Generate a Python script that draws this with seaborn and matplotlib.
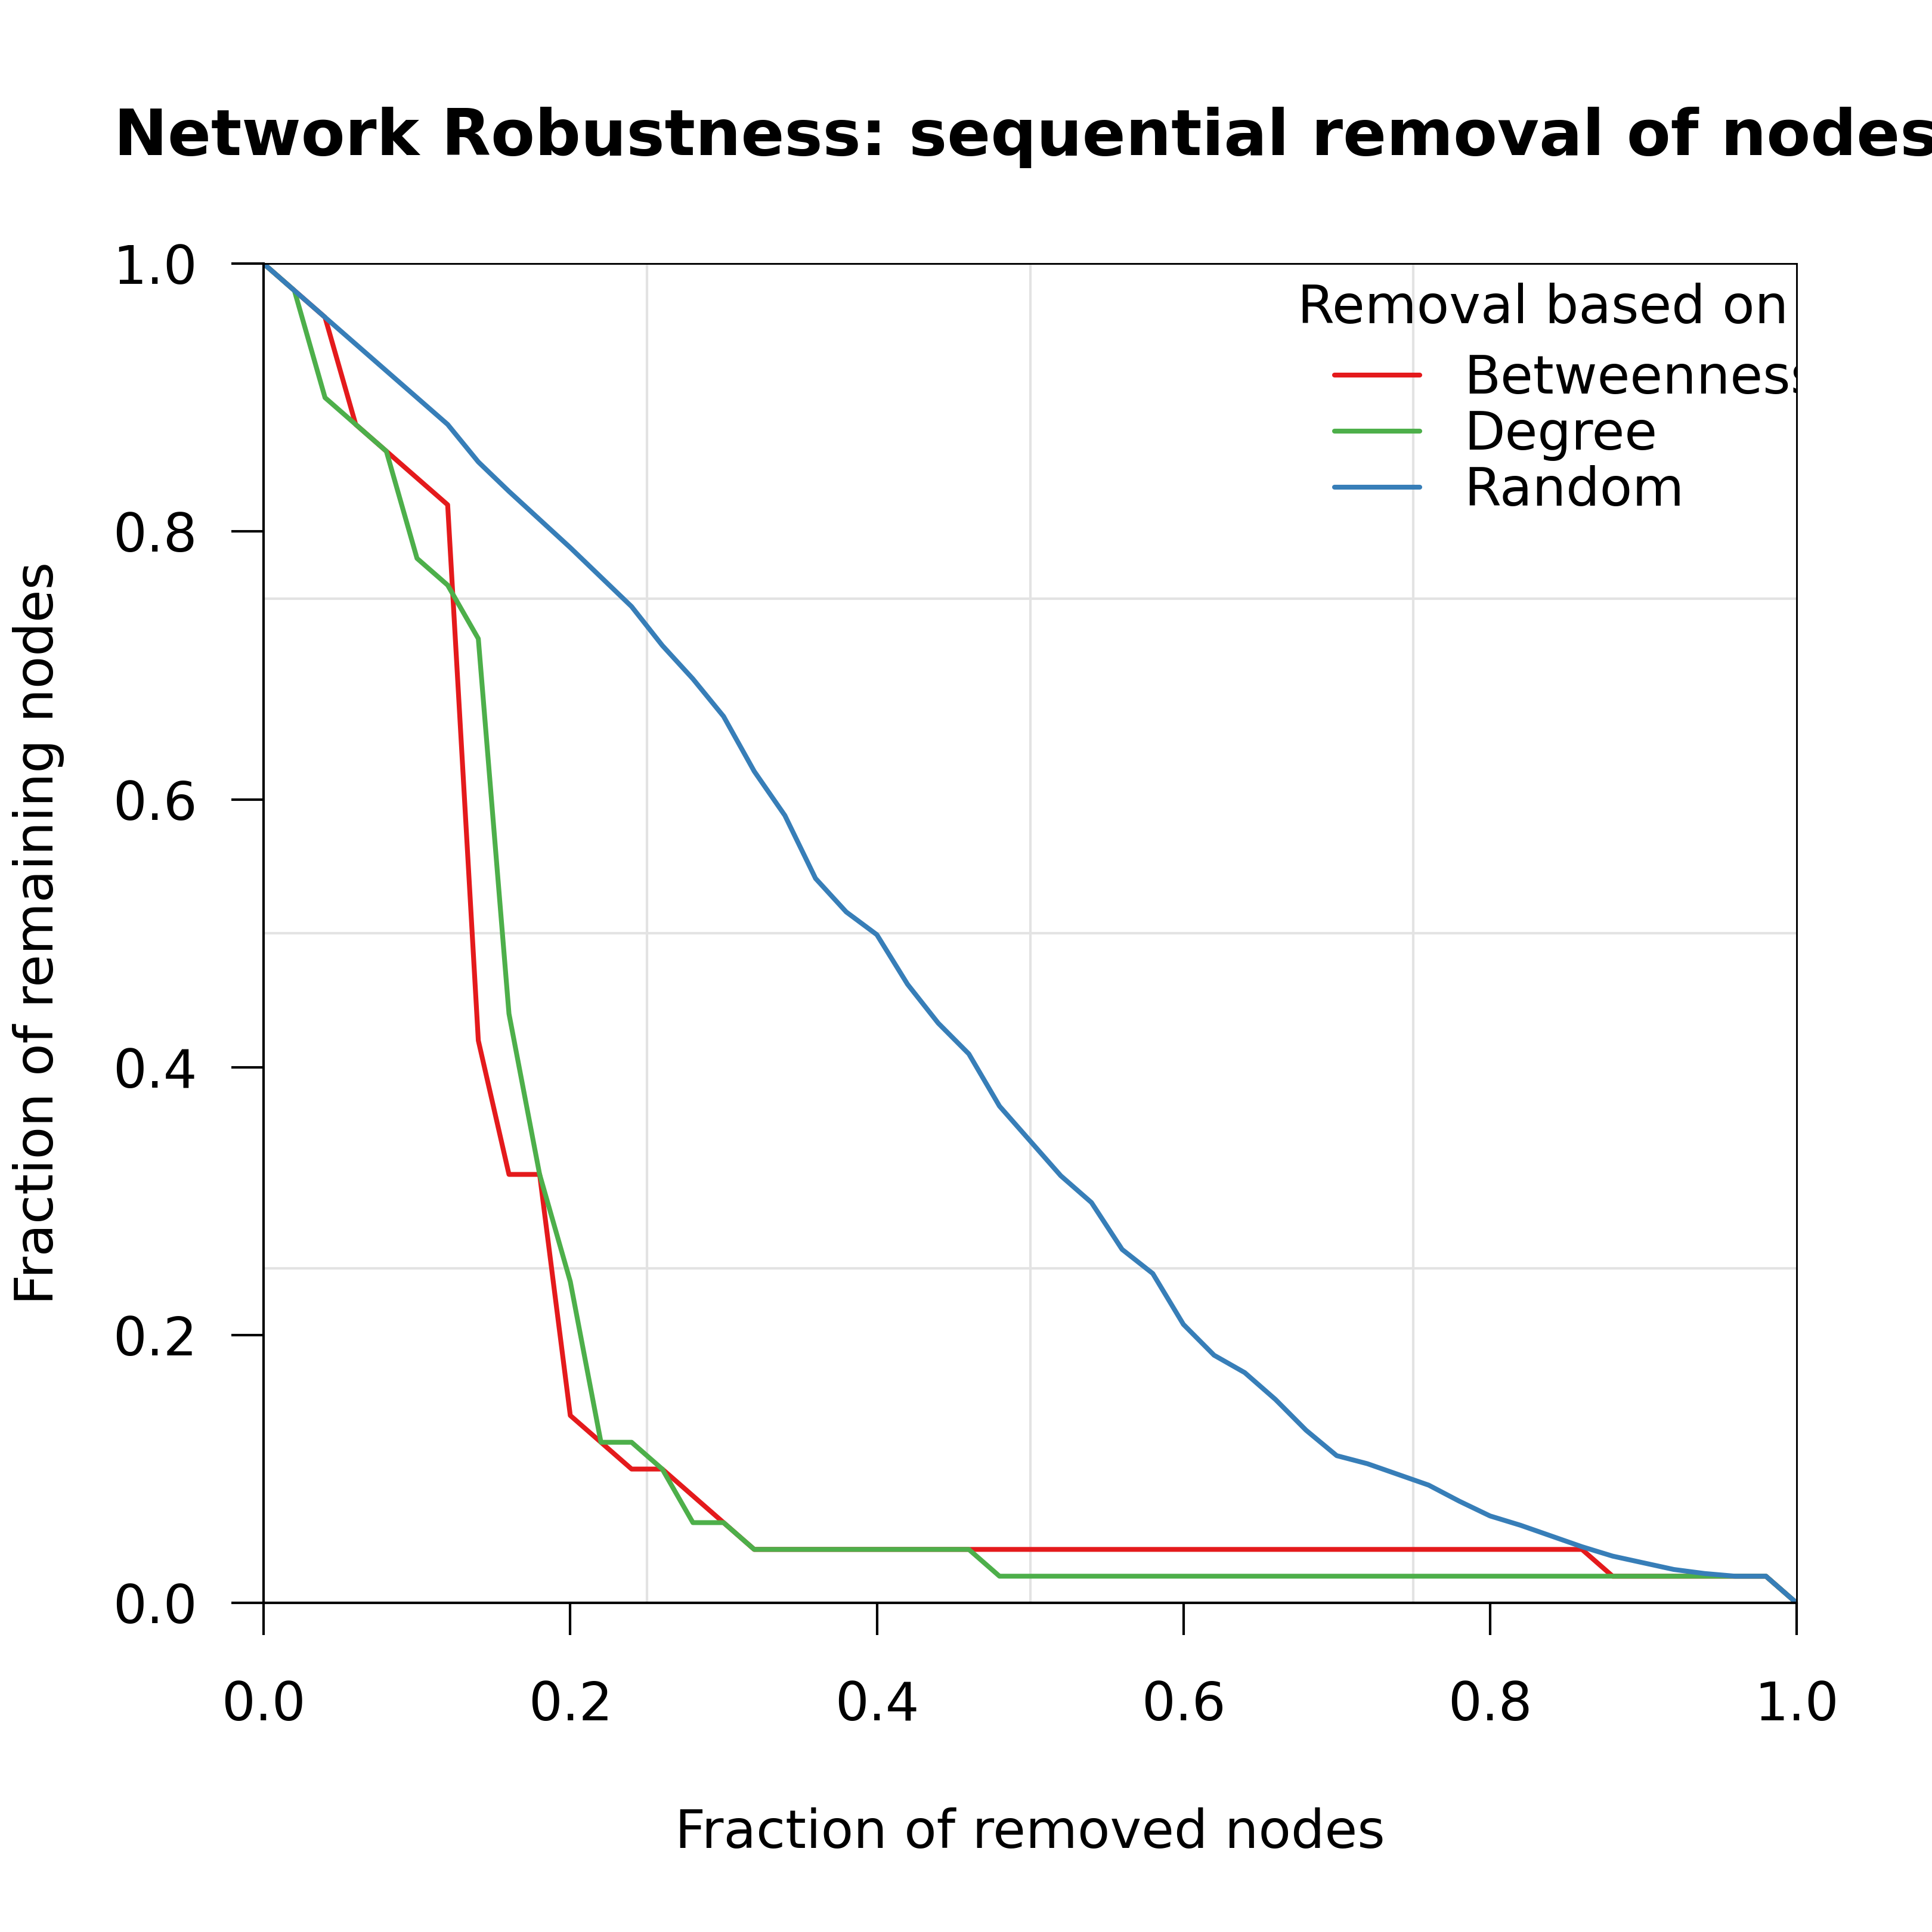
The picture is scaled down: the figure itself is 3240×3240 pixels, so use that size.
import matplotlib
matplotlib.use("Agg")
import matplotlib.pyplot as plt
from matplotlib.ticker import MultipleLocator
import pandas as pd
import seaborn as sns

# fraction of removed nodes (50-node network)
removed = [0.00, 0.02, 0.04, 0.06, 0.08, 0.10, 0.12, 0.14, 0.16, 0.18,
           0.20, 0.22, 0.24, 0.26, 0.28, 0.30, 0.32, 0.34, 0.36, 0.38,
           0.40, 0.42, 0.44, 0.46, 0.48, 0.50, 0.52, 0.54, 0.56, 0.58,
           0.60, 0.62, 0.64, 0.66, 0.68, 0.70, 0.72, 0.74, 0.76, 0.78,
           0.80, 0.82, 0.84, 0.86, 0.88, 0.90, 0.92, 0.94, 0.96, 0.98,
           1.00]

# fraction of remaining nodes per removal strategy
betweenness = [1.00, 0.98, 0.96, 0.88, 0.86, 0.84, 0.82, 0.42, 0.32, 0.32,
               0.14, 0.12, 0.10, 0.10, 0.08, 0.06, 0.04, 0.04, 0.04, 0.04,
               0.04, 0.04, 0.04, 0.04, 0.04, 0.04, 0.04, 0.04, 0.04, 0.04,
               0.04, 0.04, 0.04, 0.04, 0.04, 0.04, 0.04, 0.04, 0.04, 0.04,
               0.04, 0.04, 0.04, 0.04, 0.02, 0.02, 0.02, 0.02, 0.02, 0.02,
               0.00]
degree = [1.00, 0.98, 0.90, 0.88, 0.86, 0.78, 0.76, 0.72, 0.44, 0.32,
          0.24, 0.12, 0.12, 0.10, 0.06, 0.06, 0.04, 0.04, 0.04, 0.04,
          0.04, 0.04, 0.04, 0.04, 0.02, 0.02, 0.02, 0.02, 0.02, 0.02,
          0.02, 0.02, 0.02, 0.02, 0.02, 0.02, 0.02, 0.02, 0.02, 0.02,
          0.02, 0.02, 0.02, 0.02, 0.02, 0.02, 0.02, 0.02, 0.02, 0.02,
          0.00]
random_rm = [1.000, 0.980, 0.960, 0.940, 0.920, 0.900, 0.880, 0.852, 0.830, 0.809,
             0.788, 0.766, 0.744, 0.715, 0.690, 0.662, 0.621, 0.588, 0.541, 0.516,
             0.499, 0.462, 0.433, 0.410, 0.371, 0.345, 0.319, 0.299, 0.264, 0.246,
             0.208, 0.185, 0.172, 0.152, 0.129, 0.110, 0.104, 0.096, 0.088, 0.076,
             0.065, 0.058, 0.050, 0.042, 0.035, 0.030, 0.025, 0.022, 0.020, 0.020,
             0.000]

strategies = ["Betweenness", "Degree", "Random"]
colors = ["#E41A1C", "#4DAF4A", "#377EB8"]

df = pd.concat([
    pd.DataFrame({"removed": removed, "remaining": vals, "strategy": name})
    for name, vals in zip(strategies, [betweenness, degree, random_rm])
], ignore_index=True)

sns.set_theme(style="white")
plt.rcParams["font.family"] = ["DejaVu Sans"]
plt.rcParams["text.color"] = "black"

fs = 21.4
lw = 1.95
fig = plt.figure(figsize=(10.8, 10.8), dpi=300)
ax = fig.add_axes([0.1365, 0.1703, 0.7934, 0.6932])

sns.lineplot(data=df, x="removed", y="remaining", hue="strategy",
             hue_order=strategies, palette=dict(zip(strategies, colors)),
             estimator=None, sort=False, linewidth=lw, ax=ax)

ax.set_xlim(0, 1)
ax.set_ylim(0, 1)
ax.xaxis.set_major_locator(MultipleLocator(0.2))
ax.yaxis.set_major_locator(MultipleLocator(0.2))
ax.xaxis.set_minor_locator(MultipleLocator(0.25))
ax.yaxis.set_minor_locator(MultipleLocator(0.25))
ax.grid(False, which="major")
ax.grid(True, which="minor", color="#e3e3e3", linewidth=1.0)
ax.set_axisbelow(True)

ax.tick_params(axis="both", which="major", length=12.9, width=1.0,
               direction="out", labelsize=fs, color="black", labelcolor="black")
ax.tick_params(axis="both", which="minor", length=0)
ax.tick_params(axis="x", which="major", pad=18, bottom=True)
ax.tick_params(axis="y", which="major", pad=13.9, left=True)

for side in ["top", "right"]:
    ax.spines[side].set_linewidth(0.7)
    ax.spines[side].set_color("black")
for side in ["left", "bottom"]:
    ax.spines[side].set_linewidth(1.0)
    ax.spines[side].set_color("black")

ax.set_xlabel("Fraction of removed nodes", fontsize=fs, color="black")
ax.set_ylabel("Fraction of remaining nodes", fontsize=fs, color="black")
ax.xaxis.set_label_coords(0.5, -0.1527)
ax.yaxis.set_label_coords(-0.130, 0.5)

# legend, clipped at the plot border like the original
old = ax.get_legend()
handles = old.legend_handles
labels = [t.get_text() for t in old.get_texts()]
old.remove()
leg = ax.legend(handles, labels, loc="upper left", bbox_to_anchor=(0.6986, 0.9333),
                frameon=False, borderpad=0, borderaxespad=0, handlelength=1.6,
                handletextpad=0.84, labelspacing=0.08, fontsize=fs,
                labelcolor="black")
for h in leg.legend_handles:
    h.set_linewidth(lw)
for t in leg.get_texts():
    t.set_clip_path(ax.patch)
ax.text(0.6744, 0.9558, "Removal based on", transform=ax.transAxes,
        fontsize=fs, ha="left", va="baseline", color="black")

fig.text(0.059, 0.9198, "Network Robustness: sequential removal of nodes",
         fontsize=25.8, fontweight="bold", ha="left", va="baseline", color="black")

fig.savefig("out.png", dpi=300, facecolor="white")
